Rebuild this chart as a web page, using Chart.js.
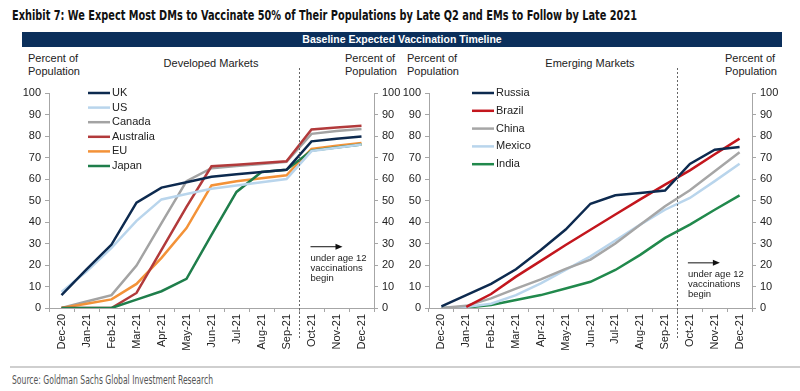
<!DOCTYPE html>
<html>
<head>
<meta charset="utf-8">
<script src="https://cdn.jsdelivr.net/npm/chart.js@4.4.1/dist/chart.umd.min.js"></script>
<style>
  body { margin: 0; background: #fff; }
  #wrap { position: relative; width: 800px; height: 391px; overflow: hidden; font-family: "Liberation Sans", Arial, sans-serif; color: #222; }
  .abs { position: absolute; white-space: nowrap; }
  #title { left: 12px; top: 7px; font-family: "Liberation Sans Narrow", "DejaVu Sans Condensed", sans-serif; font-weight: bold; font-size: 14.5px; color: #111; transform-origin: 0 0; }
  #banner { left: 22px; top: 32px; width: 760px; height: 15px; background: #0b2f5b; color: #fff; font-size: 10.5px; font-weight: bold; text-align: center; line-height: 15px; }
  .lab { font-size: 11px; line-height: 13px; }
  #rule { left: 10px; top: 366px; width: 790px; height: 2px; background: #cfcfcf; }
  #source { left: 12px; top: 373px; font-family: "Liberation Sans Narrow", "DejaVu Sans Condensed", sans-serif; font-size: 11.5px; color: #555; transform-origin: 0 0; }
  canvas { position: absolute; top: 50px; }
</style>
</head>
<body>
<div id="wrap">
  <div id="title" class="abs">Exhibit 7: We Expect Most DMs to Vaccinate 50% of Their Populations by Late Q2 and EMs to Follow by Late 2021</div>
  <div id="banner" class="abs">Baseline Expected Vaccination Timeline</div>

  <div class="abs lab" style="left:28px;top:52px;">Percent of<br>Population</div>
  <div class="abs lab" style="left:211px;top:57px;transform:translateX(-50%);">Developed Markets</div>
  <div class="abs lab" style="left:345px;top:52px;text-align:right;width:48px;">Percent of<br>Population</div>

  <div class="abs lab" style="left:407px;top:52px;">Percent of<br>Population</div>
  <div class="abs lab" style="left:590px;top:57px;transform:translateX(-50%);">Emerging Markets</div>
  <div class="abs lab" style="left:725px;top:52px;text-align:right;width:48px;">Percent of<br>Population</div>

  <canvas id="dm" width="400" height="315" style="left:0px;"></canvas>
  <canvas id="em" width="400" height="315" style="left:400px;"></canvas>

  <div id="rule" class="abs"></div>
  <div id="source" class="abs">Source: Goldman Sachs Global Investment Research</div>
</div>
<script>
const months = ['Dec-20', 'Jan-21', 'Feb-21', 'Mar-21', 'Apr-21', 'May-21', 'Jun-21', 'Jul-21', 'Aug-21', 'Sep-21', 'Oct-21', 'Nov-21', 'Dec-21'];

// developed markets, % of population vaccinated
const uk        = [6, 18, 29.5, 49, 56, 58.5, 61, 62.2, 63.2, 64.3, 77.5, 78.7, 79.8];
const us        = [7.5, 17, 28, 40.5, 50.5, 53, 55.5, 57, 58.5, 60, 73, 74.5, 76];
const canada    = [0, 3, 6, 19.7, 39.5, 59, 65, 66, 67, 68, 81, 82.3, 83.2];
const australia = [0, 0, 0, 7, 27, 47, 65.9, 66.6, 67.4, 68.2, 83, 84, 84.8];
const eu        = [0, 2, 4, 11.2, 23.3, 37.2, 57, 59, 60.3, 61.7, 74, 75.5, 76.7];
const japan     = [0, 0, 0, 3.9, 7.8, 13.6, 34, 54, 63.3, 64.3, 73.2, 74.6, 76];

// emerging markets
const russia = [0.8, 6, 11.2, 18, 27, 36.5, 48.5, 52.4, 53.5, 54.6, 67, 73.6, 74.9];
const brazil = [null, 0.5, 6.5, 14.6, 21.9, 29.3, 36.4, 43.5, 50.5, 57.4, 64, 71.5, 78.8];
const china  = [0, 1, 4.5, 9, 13.3, 18.2, 22.5, 30, 38.7, 47.3, 54.8, 63.6, 72.4];
const mexico = [0, 0.5, 2, 6, 11.5, 17.7, 24, 31.4, 38.8, 45.7, 51.2, 59, 67.1];
const india  = [0, 0.2, 1.4, 3.7, 6, 9.1, 12.2, 17.7, 24.7, 32.6, 38.8, 45.7, 52.4];

const yTicks = [0, 10, 20, 30, 40, 50, 60, 70, 80, 90, 100];
const noteText = ['under age 12', 'vaccinations', 'begin'];

const FONT = '"Liberation Sans", Arial, sans-serif';

// the narrow font of the original is not installed: squeeze to the original width
function fitWidth(id, w) {
    const el = document.getElementById(id);
    const cur = el.getBoundingClientRect().width;
    if (cur > w) el.style.transform = 'scaleX(' + (w / cur) + ')';
}
fitWidth('title', 625);
fitWidth('source', 201);

// legend, dashed divider and the "under age 12" note
const overlay = {
    id: 'overlay',
    afterDraw(chart, args, o) {
        const ctx = chart.ctx;
        const xs = chart.scales.x, ys = chart.scales.y;
        ctx.save();

        // divider between Sep-21 and Oct-21
        const xd = Math.round((xs.getPixelForValue(9) + xs.getPixelForValue(10)) / 2) + 0.5;
        ctx.strokeStyle = '#666';
        ctx.lineWidth = 1;
        ctx.setLineDash([2, 2]);
        ctx.beginPath();
        ctx.moveTo(xd, 18);
        ctx.lineTo(xd, ys.bottom + 30);
        ctx.stroke();
        ctx.setLineDash([]);

        // legend
        ctx.font = '11px ' + FONT;
        ctx.textBaseline = 'middle';
        chart.data.datasets.forEach((ds, i) => {
            const y = o.legendY + i * o.legendGap;
            ctx.strokeStyle = ds.borderColor;
            ctx.lineWidth = 2.5;
            ctx.beginPath();
            ctx.moveTo(o.legendX, y);
            ctx.lineTo(o.legendX + 22, y);
            ctx.stroke();
            ctx.fillStyle = '#222';
            ctx.fillText(ds.label, o.legendX + 24, y);
        });

        // note with arrow
        const nx = xs.getPixelForValue(10) + o.noteDx;
        const ay = ys.getPixelForValue(o.arrowAt);
        ctx.strokeStyle = '#111';
        ctx.fillStyle = '#111';
        ctx.lineWidth = 1;
        ctx.beginPath();
        ctx.moveTo(nx, ay);
        ctx.lineTo(nx + 26, ay);
        ctx.stroke();
        ctx.beginPath();
        ctx.moveTo(nx + 32, ay);
        ctx.lineTo(nx + 25, ay - 3);
        ctx.lineTo(nx + 25, ay + 3);
        ctx.closePath();
        ctx.fill();
        ctx.font = '9.5px ' + FONT;
        ctx.fillStyle = '#222';
        noteText.forEach((t, i) => ctx.fillText(t, nx, ay + 12 + i * 10));
        ctx.restore();
    }
};

function line(label, data, color, order) {
    return { label, data, borderColor: color, backgroundColor: color, borderWidth: 2.5,
             pointRadius: 0, tension: 0, order, spanGaps: false };
}

function makeChart(id, datasets, leftW, rightW, ov) {
    const axisCol = '#a6a6a6';
    const yCommon = {
        min: 0, max: 100,
        afterBuildTicks: s => { s.ticks = yTicks.map(v => ({ value: v })); },
        grid: { drawOnChartArea: false, drawTicks: true, tickLength: 4, color: axisCol },
        border: { color: axisCol, width: 1 },
        ticks: { color: '#222', padding: 4, font: { family: FONT, size: 11 } }
    };
    return new Chart(document.getElementById(id), {
        type: 'line',
        data: { labels: months, datasets },
        options: {
            responsive: false,
            animation: false,
            layout: { padding: { top: 43, left: 0, right: 0, bottom: 0 } },
            plugins: { legend: { display: false }, tooltip: { enabled: false }, overlay: ov },
            scales: {
                x: {
                    offset: true,
                    grid: { offset: true, drawOnChartArea: false, drawTicks: true, tickLength: 4, color: axisCol },
                    border: { color: axisCol, width: 1 },
                    ticks: { color: '#222', minRotation: 90, maxRotation: 90, autoSkip: false, padding: 2,
                             font: { family: FONT, size: 11 } },
                    afterFit: s => { s.height = 57; }
                },
                y: Object.assign({}, yCommon, { position: 'left', afterFit: s => { s.width = leftW; } }),
                y2: Object.assign({}, yCommon, { position: 'right', afterFit: s => { s.width = rightW; } })
            }
        },
        plugins: [overlay]
    });
}

makeChart('dm', [
    line('UK', uk, '#0d2a4f', 1),
    line('US', us, '#b9d5ec', 2),
    line('Canada', canada, '#a3a3a3', 6),
    line('Australia', australia, '#b23a3b', 4),
    line('EU', eu, '#f39238', 5),
    line('Japan', japan, '#1f7e4b', 3)
], 49, 26, { legendX: 88, legendY: 43, legendGap: 14.6, noteDx: -1, arrowAt: 28.5 });

makeChart('em', [
    line('Russia', russia, '#0d2a4f', 1),
    line('Brazil', brazil, '#c3161d', 2),
    line('China', china, '#a6a6a6', 3),
    line('Mexico', mexico, '#b9d5ec', 4),
    line('India', india, '#21894c', 5)
], 29, 48, { legendX: 72, legendY: 43, legendGap: 17.8, noteDx: -2, arrowAt: 21 });
</script>
</body>
</html>
